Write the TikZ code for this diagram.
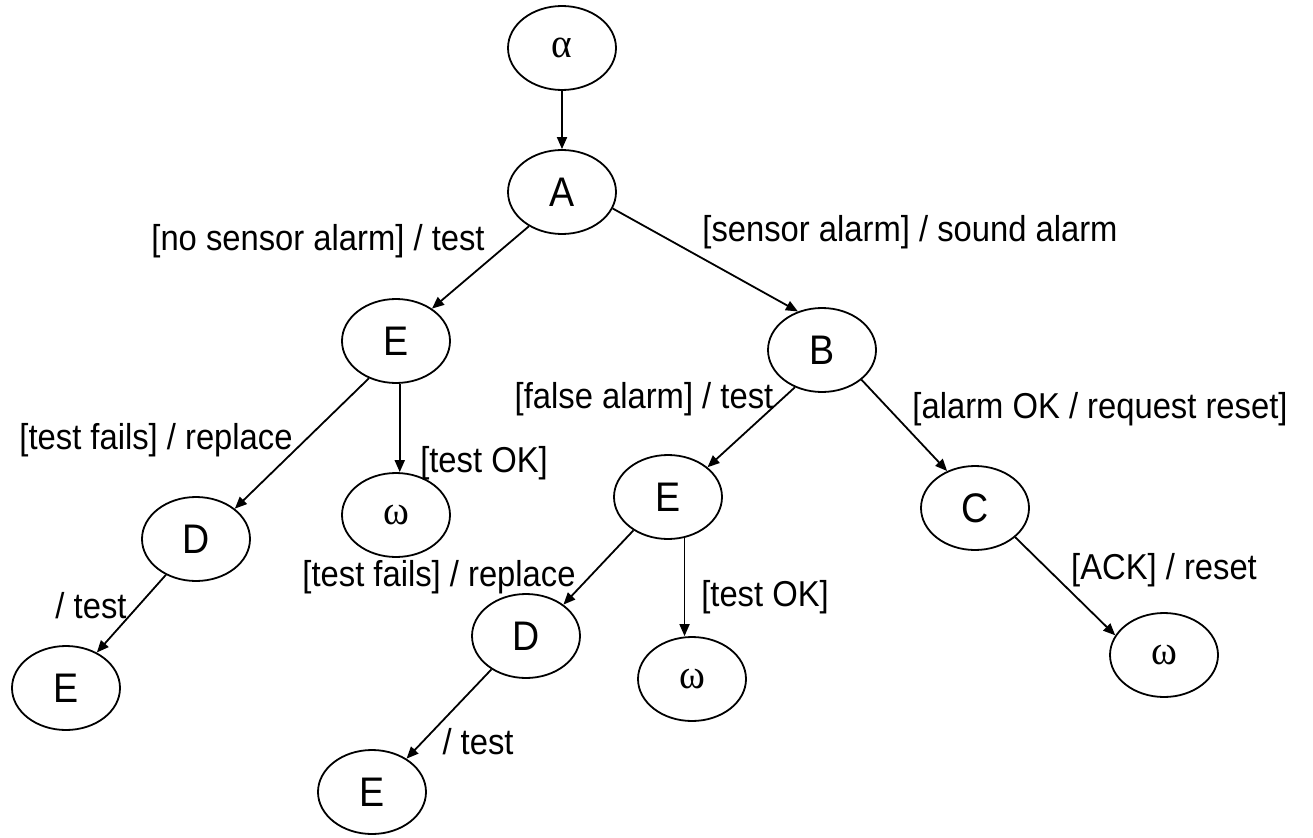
\documentclass[tikz,border=0pt]{standalone}
\usepackage{fontspec}
\setmainfont{Liberation Sans}[FakeStretch=0.91]
\newfontfamily\greekfont{Liberation Serif}[FakeStretch=0.95]
\usetikzlibrary{arrows.meta,shapes.geometric}
\newcommand{\gr}[1]{{\greekfont #1}}

\begin{document}
\begin{tikzpicture}[x=0.75pt,y=-0.75pt,>={Triangle[length=9pt,width=7.5pt]}]
\tikzset{
 state/.style={draw,ellipse,line width=1.35pt,minimum width=81pt,minimum height=63pt,inner sep=0pt,font=\fontsize{31}{33}\selectfont},
 lbl/.style={inner sep=0pt,font=\fontsize{27}{29}\selectfont},
 arrow/.style={->,line width=1.35pt}
}
\useasboundingbox (0,0) rectangle (1313,838);
% states
\node[state] (alpha) at (562,48) {\gr{α}};
\node[state] (A) at (562,192) {A};
\node[state] (E1) at (396,341) {E};
\node[state] (B) at (822,350) {B};
\node[state] (D1) at (196,539) {D};
\node[state] (W1) at (396,515) {\gr{ω}};
\node[state] (E2) at (668,497) {E};
\node[state] (C) at (975,508) {C};
\node[state] (D2) at (526,636) {D};
\node[state] (W2) at (692,679) {\gr{ω}};
\node[state] (E3) at (66,688) {E};
\node[state] (E4) at (372,792) {E};
\node[state] (W3) at (1164,655) {\gr{ω}};
% transitions
\draw[arrow] (alpha)--(A);
\draw[arrow] (A.226)--(E1.42);
\draw[arrow] (A.-18)--(B.122);
\draw[arrow] (E1.234)--(D1.38);
\draw[arrow] (E1.275)--(E1.275 |- W1.north);
\draw[arrow] (B.234)--(E2.37);
\draw[arrow] (B.-37)--(C.127);
\draw[arrow] (E2.224)--(D2.40);
\draw[arrow] (E2.292)--(E2.292 |- W2.north);
\draw[arrow] (C.-36)--(W3.158);
\draw[arrow] (D1.230)--(E3.49);
\draw[arrow] (D2.224)--(E4.44);
% labels
\node[lbl] (nosensor) at (318,241) {[no sensor alarm] / test};
\node[lbl] (sensor) at (910,232) {[sensor alarm] / sound alarm};
\node[lbl] (false) at (644,399) {[false alarm] / test};
\node[lbl] (alarmok) at (1100,409) {[alarm OK / request reset]};
\node[lbl] (fails1) at (156,440) {[test fails] / replace};
\node[lbl] (ok1) at (484,463) {[test OK]};
\node[lbl] (fails2) at (439,577) {[test fails] / replace};
\node[lbl] (ok2) at (765,597) {[test OK]};
\node[lbl] (ack) at (1164,570) {[ACK] / reset};
\node[lbl] (test1) at (91,606) {/ test};
\node[lbl] (test2) at (478,742) {/ test};
\end{tikzpicture}
\end{document}
